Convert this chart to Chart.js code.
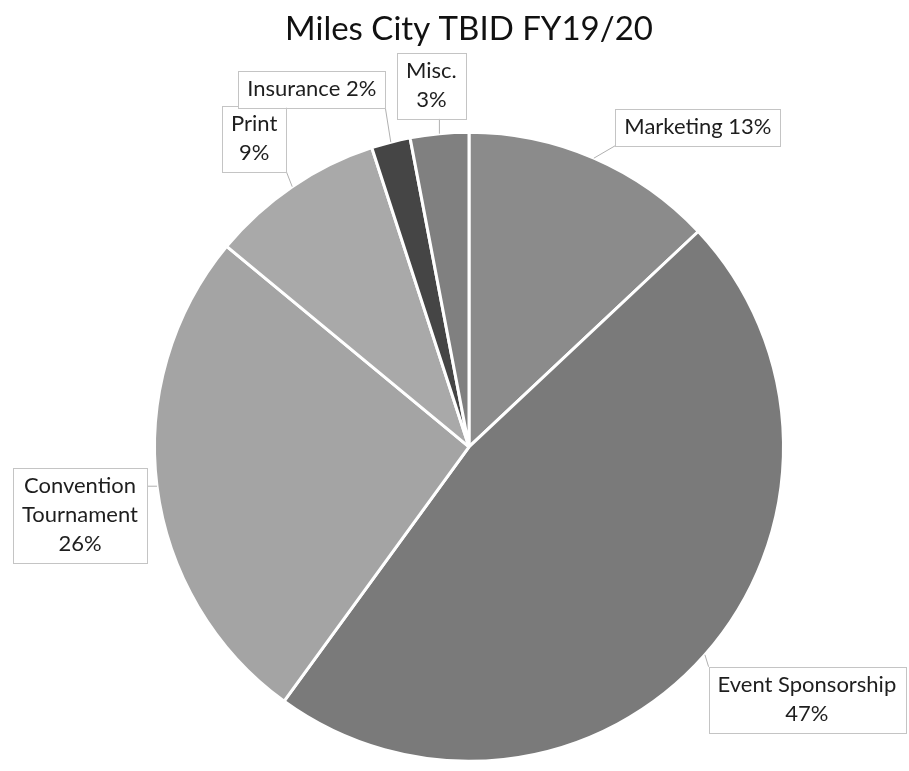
<!DOCTYPE html>
<html>
<head>
<meta charset="utf-8">
<title>Miles City TBID FY19/20</title>
<script src="https://cdn.jsdelivr.net/npm/chart.js@4.4.1/dist/chart.umd.min.js"></script>
<style>
  html, body { margin: 0; padding: 0; background: #ffffff; }
  #wrap { width: 909px; height: 771px; position: relative; }
</style>
</head>
<body>
<div id="wrap"><canvas id="chart"></canvas></div>
<script>
  // ─── Data ────────────────────────────────────────────────────────────────
  const categories = ['Marketing', 'Event Sponsorship', 'Convention Tournament', 'Print', 'Insurance', 'Misc.'];
  const shares = [13, 47, 26, 9, 2, 3];
  const sliceColors = ['#8b8b8b', '#7a7a7a', '#a4a4a4', '#a9a9a9', '#454545', '#808080'];

  // Text of each callout, one entry per line
  const calloutLines = [
    ['Marketing 13%'],
    ['Event Sponsorship', '47%'],
    ['Convention', 'Tournament', '26%'],
    ['Print', '9%'],
    ['Insurance 2%'],
    ['Misc.', '3%'],
  ];

  // Where each callout box sits, relative to the slice's outer mid point
  const calloutOffsets = [
    [104, -31], [102, 45], [-77, 29], [-38, -48], [-79, -53], [-8, -48],
  ];

  const FONT = 'Lato, "Open Sans", sans-serif';

  // ─── Callout plugin ──────────────────────────────────────────────────────
  const callouts = {
    id: 'callouts',
    afterDatasetsDraw(chart) {
      const ctx = chart.ctx;
      const arcs = chart.getDatasetMeta(0).data;
      const lineH = 29;
      ctx.save();
      ctx.font = '22px ' + FONT;
      arcs.forEach(function (arc, i) {
        const p = arc.getProps(['x', 'y', 'startAngle', 'endAngle', 'outerRadius'], true);
        const mid = (p.startAngle + p.endAngle) / 2;
        const ax = p.x + Math.cos(mid) * p.outerRadius;
        const ay = p.y + Math.sin(mid) * p.outerRadius;

        const lines = calloutLines[i];
        const textW = Math.max.apply(null, lines.map(function (l) { return ctx.measureText(l).width; }));
        const w = textW + 18;
        const h = lines.length * lineH + 8;
        const cx = ax + calloutOffsets[i][0];
        const cy = ay + calloutOffsets[i][1];
        const left = cx - w / 2, top = cy - h / 2;

        // leader line to the nearest point of the box
        const nx = Math.min(Math.max(ax, left), left + w);
        const ny = Math.min(Math.max(ay, top), top + h);
        ctx.strokeStyle = '#b0b0b0';
        ctx.lineWidth = 1;
        ctx.beginPath();
        ctx.moveTo(ax, ay);
        ctx.lineTo(nx, ny);
        ctx.stroke();

        ctx.fillStyle = '#ffffff';
        ctx.fillRect(left, top, w, h);
        ctx.strokeStyle = '#c4c4c4';
        ctx.strokeRect(Math.round(left) + 0.5, Math.round(top) + 0.5, Math.round(w), Math.round(h));

        ctx.fillStyle = '#1e1e1e';
        ctx.textAlign = 'center';
        ctx.textBaseline = 'middle';
        lines.forEach(function (l, k) {
          ctx.fillText(l, cx, top + 4 + lineH * (k + 0.5));
        });
      });
      ctx.restore();
    }
  };

  new Chart(document.getElementById('chart'), {
    type: 'pie',
    data: {
      labels: categories,
      datasets: [{
        data: shares,
        backgroundColor: sliceColors,
        borderColor: '#ffffff',
        borderWidth: 3,
      }],
    },
    options: {
      responsive: true,
      maintainAspectRatio: false,
      animation: false,
      layout: { padding: { top: 0, bottom: 8, left: 153, right: 124 } },
      plugins: {
        legend: { display: false },
        tooltip: { enabled: false },
        title: {
          display: true,
          text: 'Miles City TBID FY19/20',
          color: '#111111',
          font: { family: FONT, size: 33, weight: 'normal', lineHeight: 1.2 },
          padding: { top: 10, bottom: 81 },
        },
      },
    },
    plugins: [callouts],
  });
</script>
</body>
</html>
